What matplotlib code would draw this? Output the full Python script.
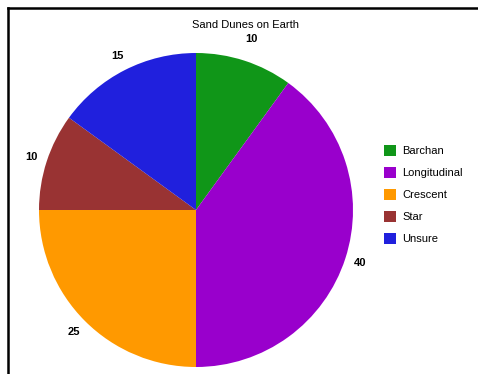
import matplotlib
matplotlib.use("Agg")
import matplotlib.pyplot as plt
from matplotlib.lines import Line2D

plt.rcParams['font.family'] = ['Liberation Sans', 'DejaVu Sans']

dunes = ["Barchan", "Longitudinal", "Crescent", "Star", "Unsure"]
counts = [10, 40, 25, 10, 15]
colors = ["#109618", "#9900cc", "#ff9900", "#993333", "#2020dd"]

W, H = 478, 374
fig = plt.figure(figsize=(W / 100, H / 100), dpi=100)
fig.patch.set_edgecolor("white")
fig.patch.set_linewidth(0)

# outer frame: only top and left edges show in the original crop
fig.lines.append(Line2D([8 / W, 1.5], [1 - 8 / H, 1 - 8 / H], transform=fig.transFigure,
                        color="black", lw=1.8))
fig.lines.append(Line2D([8 / W, 8 / W], [-0.5, 1 - 8 / H], transform=fig.transFigure,
                        color="black", lw=1.8))

# pie centre ~ (196, 210) px, radius ~157 px
cx, cy, r = 196, 210, 157
ax = fig.add_axes([(cx - r) / W, 1 - (cy + r) / H, 2 * r / W, 2 * r / H])
wedges, texts = ax.pie(counts, colors=colors, startangle=90, counterclock=False,
                       labels=[str(c) for c in counts], labeldistance=1.1,
                       textprops=dict(fontsize=8, fontweight="bold"),
                       wedgeprops=dict(linewidth=0))
for t in texts:
    t.set_ha("center")
    t.set_va("center")
x0, y0 = texts[0].get_position()
texts[0].set_position((x0 * 1.04, y0 * 1.04))
ax.set_xlim(-1, 1)
ax.set_ylim(-1, 1)
ax.set_aspect("equal")

fig.text(245 / W, 1 - 25 / H, "Sand Dunes on Earth", ha="center", va="center", fontsize=8)

fig.legend(wedges, dunes, loc="upper left", bbox_to_anchor=(384 / W, 1 - 145 / H),
           frameon=False, fontsize=8, handlelength=1.1, handleheight=1.1,
           handletextpad=0.55, labelspacing=0.98, borderpad=0, borderaxespad=0)

fig.savefig("out.png", dpi=100)
